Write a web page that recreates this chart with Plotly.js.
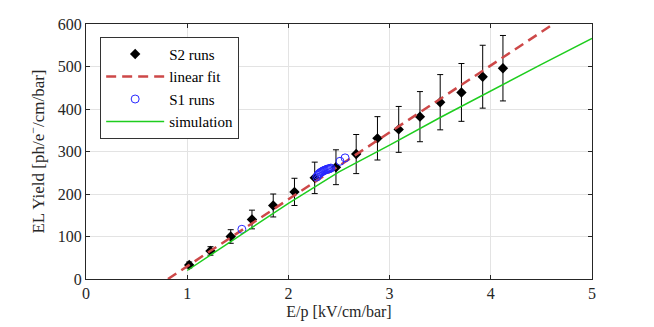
<!DOCTYPE html>
<html>
<head>
<meta charset="utf-8">
<script src="https://cdn.plot.ly/plotly-3.0.1.min.js"></script>
<style>html,body{margin:0;padding:0;background:#fff;}#chart{width:654px;height:327px;}</style>
</head>
<body>
<div id="chart"></div>
<script>
// S2 runs
const s2X = [1.02, 1.23, 1.43, 1.64, 1.85, 2.06, 2.26, 2.47, 2.67, 2.88, 3.09, 3.30, 3.50, 3.71, 3.92, 4.12];
const s2Y = [33, 66, 100, 140, 173, 205, 238, 263, 294, 331, 352, 382, 416, 439, 476, 496];
const s2Err = [7, 10, 16, 22, 27, 32, 37, 41, 46, 51, 54, 59, 65, 68, 74, 77];
// linear fit
const fitX = [0.81, 5.0];
const fitY = [0, 660];
// S1 runs
const s1X = [1.54, 2.28, 2.29, 2.30, 2.31, 2.32, 2.33, 2.34, 2.35, 2.36, 2.37, 2.38, 2.39, 2.40, 2.41, 2.42, 2.51, 2.56];
const s1Y = [117, 240, 244, 247, 249, 251, 252, 254, 255, 256, 257, 258, 259, 259, 260, 261, 277, 285];
// simulation
const simX = [1.0, 1.5, 2.0, 2.5, 3.0, 3.5, 4.0, 4.5, 5.0];
const simY = [20, 100, 178, 252, 315, 380, 443, 505, 566];
// ticks
const xTicks = [0, 1, 2, 3, 4, 5];
const yTicks = [0, 100, 200, 300, 400, 500, 600];

const FONT = 'Liberation Serif';

const traces = [
  {x: s2X, y: s2Y, type: 'scatter', mode: 'markers', name: 'S2 runs',
   marker: {symbol: 'diamond', size: 8, color: '#000'},
   error_y: {type: 'data', array: s2Err, visible: true, color: '#000', thickness: 1, width: 3}},
  {x: fitX, y: fitY, type: 'scatter', mode: 'lines', name: 'linear fit',
   line: {color: 'rgb(205,72,72)', width: 2.5, dash: '10px,6px'}},
  {x: s1X, y: s1Y, type: 'scatter', mode: 'markers', name: 'S1 runs',
   marker: {symbol: 'circle-open', size: 8, color: 'rgb(40,40,255)', line: {width: 1}}},
  {x: simX, y: simY, type: 'scatter', mode: 'lines', name: 'simulation',
   line: {color: 'rgb(30,205,30)', width: 1.5}}
];

function axis(extra) {
  return Object.assign({
    showline: true, linecolor: '#262626', linewidth: 1, mirror: 'allticks',
    ticks: 'inside', ticklen: 4, tickcolor: '#262626',
    showgrid: true, gridcolor: '#e3e3e3', gridwidth: 1, zeroline: false,
    tickfont: {family: FONT, size: 16, color: '#262626'}
  }, extra);
}

const layout = {
  width: 654, height: 327,
  margin: {l: 86, r: 62, t: 24, b: 48},
  paper_bgcolor: '#fff', plot_bgcolor: '#fff',
  font: {family: FONT, size: 16, color: '#262626'},
  showlegend: true,
  legend: {x: 0.028, y: 0.95, xanchor: 'left', yanchor: 'top',
           bgcolor: '#fff', bordercolor: '#333', borderwidth: 1,
           font: {family: FONT, size: 15, color: '#000'}, itemwidth: 58, tracegroupgap: 0},
  xaxis: axis({range: [0, 5], tickvals: xTicks, ticktext: xTicks.map(String),
    title: {text: 'E/p [kV/cm/bar]', font: {family: FONT, size: 16, color: '#262626'}, standoff: 4}}),
  yaxis: axis({range: [0, 600], tickvals: yTicks, ticktext: yTicks.map(String),
    title: {text: 'EL Yield [ph/e<sup>−</sup>/cm/bar]', font: {family: FONT, size: 17, color: '#262626'}, standoff: 8}})
};

Plotly.newPlot('chart', traces, layout, {displayModeBar: false, staticPlot: true});
</script>
</body>
</html>
